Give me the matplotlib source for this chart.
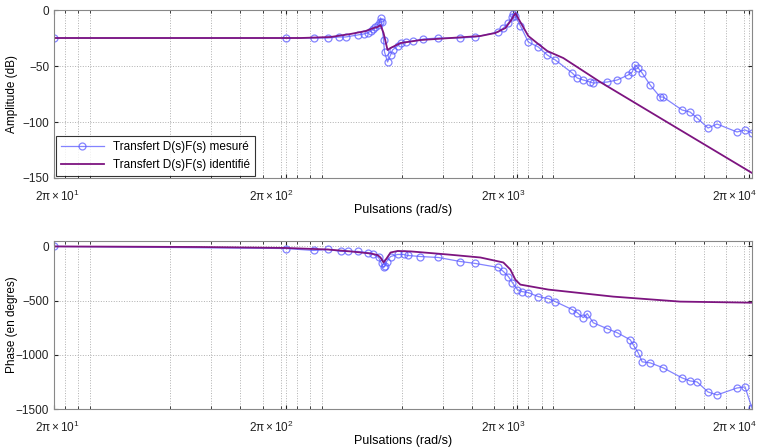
import matplotlib.pyplot as plt
import numpy as np
from matplotlib.transforms import ScaledTranslation

plt.rcParams['font.family'] = ['Liberation Sans', 'DejaVu Sans']
plt.rcParams['mathtext.fontset'] = 'custom'
plt.rcParams['mathtext.rm'] = 'Liberation Sans'
plt.rcParams['mathtext.it'] = 'Liberation Sans:italic'

# Frequencies in Hz (pulsation = 2*pi*f)
f_id_amp = [10, 116.1, 156.3, 190.6, 221.3, 239.4, 249.2, 256.7, 264.5, 275.3, 283.6,
            313.3, 381.9, 514.3, 692.7, 803.9, 887.9, 942.3, 980.4, 1030.1, 1115.2,
            1231.9, 1347, 1580, 2279.5, 4134.7, 10301]
amp_id = [-25.0, -25.0, -24.1, -21.4, -18.8, -16.1, -15.2, -13.4, -20.5, -35.7, -33.9,
          -29.5, -26.8, -25.0, -23.2, -20.5, -16.1, -8.9, -2.8, -10.7, -23.2,
          -30.4, -36.6, -42.9, -64.3, -96.4, -145.5]

f_mes_amp = [10, 100, 132.1, 151.7, 169.2, 181.4, 204.3, 216.9, 225.7, 232.5, 239.4,
             244.2, 249.2, 254.2, 256.7, 259.3, 264.5, 267.1, 275.3, 283.6, 289.3,
             304.1, 313.3, 329.1, 356.2, 393.4, 456.5, 567.9, 659.2, 828.2, 870.5,
             914.7, 951.7, 961.2, 980.4, 1030.1, 1115.2, 1231.9, 1347, 1458.3, 1726.4,
             1813.9, 1925.2, 2063.8, 2126.2, 2443.6, 2697.8, 3009.2, 3131.4, 3225.8,
             3323.5, 3458.3, 3744.7, 4134.7, 4259.4, 5144.3, 5568.3, 5969.0, 6657.8,
             7279.6, 8878, 9611, 10301]
amp_mes = [-25.0, -25.0, -25.0, -25.0, -24.1, -24.1, -22.3, -21.4, -20.5, -18.8, -17.0,
           -15.2, -13.4, -10.7, -7.1, -10.7, -26.8, -37.5, -46.4, -40.2, -35.7,
           -32.1, -29.5, -28.6, -27.7, -25.9, -25.0, -25.0, -24.1, -19.6, -16.1,
           -11.6, -6.3, -3.6, -5.4, -14.0, -28.6, -33.0, -40.2, -44.6, -56.3,
           -60.7, -62.5, -64.3, -65.2, -64.3, -62.5, -58.0, -55.4, -49.1,
           -51.8, -56.3, -67.0, -77.7, -77.7, -89.3, -91.1, -96.4, -105.4,
           -101.8, -108.9, -107.1, -109.8]

f_id_ph = [10, 42, 100, 151.7, 190.6, 232.5, 249.2, 256.7, 264.5, 272.6, 283.6, 304.1,
           347, 499.3, 692.7, 870.5, 933.0, 980.4, 1030.1, 1360.5, 2593.6, 5043.1, 10301]
ph_id = [0, -5, -14, -28, -46, -65, -79, -102, -148, -111, -56, -42,
         -46, -74, -102, -148, -213, -306, -352, -398, -463, -509, -519]

f_mes_ph = [10, 100, 132.1, 152.8, 172.7, 185.0, 204.3, 225.7, 239.4, 251.7, 259.3,
            264.5, 267.1, 272.6, 283.6, 304.1, 322.7, 335.7, 381.9, 456.5, 567.9,
            659.2, 828.2, 870.5, 914.7, 951.7, 1000, 1050.9, 1115.2, 1231.9, 1360.5,
            1458.3, 1726.4, 1813.9, 1925.2, 2003.2, 2126.2, 2443.6, 2697.8, 3069.7,
            3162.3, 3323.5, 3458.3, 3744.7, 4259.4, 5144.3, 5568.3, 5969.0, 6657.8,
            7279.6, 8878, 9611, 10301]
ph_mes = [0, -19, -37, -28, -46, -46, -46, -56, -74, -102, -157,
          -194, -185, -139, -93, -74, -74, -83, -93, -102, -139,
          -157, -194, -231, -278, -333, -398, -417, -426, -463, -481,
          -509, -583, -611, -657, -620, -704, -759, -796, -861,
          -907, -981, -1065, -1074, -1120, -1213, -1241, -1250, -1343,
          -1370, -1306, -1296, -1491]

tick_labels = [r'$2\mathrm{\pi}\times10^{1}$', r'$2\mathrm{\pi}\times10^{2}$',
               r'$2\mathrm{\pi}\times10^{3}$', r'$2\mathrm{\pi}\times10^{4}$']

blue = '#5a5aff'
purple = '#7d1480'
w = lambda f: 2 * np.pi * np.asarray(f)

fig = plt.figure(figsize=(7.66, 4.47), dpi=100)
ax1 = fig.add_axes([0.0705, 0.6018, 0.9112, 0.3758])
ax2 = fig.add_axes([0.0705, 0.085, 0.9112, 0.3758])

ax1.plot(w(f_mes_amp), amp_mes, color=blue, lw=0.9, alpha=0.75, marker='o',
         ms=5, mfc='none', mec=blue, mew=0.9, label='Transfert D(s)F(s) mesuré')
ax1.plot(w(f_id_amp), amp_id, color=purple, lw=1.3, label='Transfert D(s)F(s) identifié')
ax2.plot(w(f_mes_ph), ph_mes, color=blue, lw=0.9, alpha=0.75, marker='o',
         ms=5, mfc='none', mec=blue, mew=0.9)
ax2.plot(w(f_id_ph), ph_id, color=purple, lw=1.3)

ax1.set_ylim(-150, 0)
ax1.set_yticks([0, -50, -100, -150])
ax2.set_ylim(-1500, 50)
ax2.set_yticks([0, -500, -1000, -1500])
ax1.set_ylabel('Amplitude (dB)', fontsize=8.5)
ax2.set_ylabel('Phase (en degres)', fontsize=8.5)

for ax in (ax1, ax2):
    ax.set_xscale('log')
    ax.set_xlim(w(10), w(10301))
    ax.set_xticks(w([10, 100, 1000, 10000]))
    ax.set_xticklabels(tick_labels)
    ax.set_xlabel('Pulsations (rad/s)', fontsize=9, labelpad=0)
    ax.grid(True, which='both', axis='x', ls=':', color='#b0b0b0', lw=0.7)
    ax.grid(True, which='major', axis='y', ls=':', color='#b0b0b0', lw=0.7)
    ax.tick_params(which='both', direction='in', top=True, right=True,
                   labelsize=8.5, colors='#222222', length=3)
    ax.tick_params(axis='x', which='major', pad=8)
    ax.tick_params(axis='x', which='minor', length=2)
    for s in ax.spines.values():
        s.set_color('#888888')
        s.set_linewidth(0.8)
    for i, lab in enumerate(ax.get_xticklabels()):
        dx = 3 if i == 0 else -14
        lab.set_transform(lab.get_transform() + ScaledTranslation(dx / 100, 0, fig.dpi_scale_trans))
    ax.yaxis.set_label_coords(-0.052, 0.5)

leg = ax1.legend(loc='lower left', fontsize=8.5, frameon=True, fancybox=False,
                 borderaxespad=0.15, handlelength=3.6, borderpad=0.45)
leg.get_frame().set_edgecolor('black')
leg.get_frame().set_linewidth(0.8)

fig.savefig('out.png', dpi=100)
